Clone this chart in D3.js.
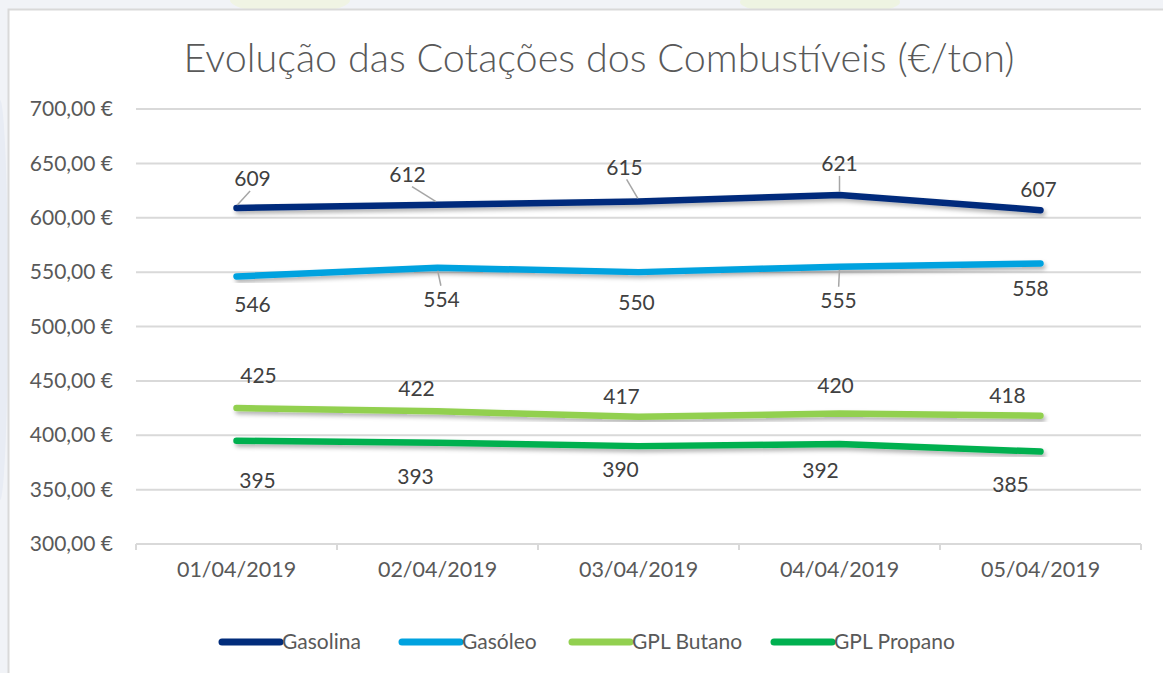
<!DOCTYPE html>
<html>
<head>
<meta charset="utf-8">
<script src="https://cdn.jsdelivr.net/npm/d3@7"></script>
<style>
  body { margin: 0; background: #f1f3f7; overflow: hidden; }
  svg { display: block; font-family: Lato, "Open Sans", sans-serif; }
</style>
</head>
<body>
<div id="chart"></div>
<script>
// data
var dates = ["01/04/2019", "02/04/2019", "03/04/2019", "04/04/2019", "05/04/2019"];
var seriesNames = ["Gasolina", "Gasóleo", "GPL Butano", "GPL Propano"];
var gasolina = [609, 612, 615, 621, 607];
var gasoleo = [546, 554, 550, 555, 558];
var gplButano = [425, 422, 417, 420, 418];
var gplPropano = [395, 393, 390, 392, 385];
var yTicks = [300, 350, 400, 450, 500, 550, 600, 650, 700];

// label placement (hand moved in the original), dx/dy from the point, leader line or not
var labelOffsets = [
  [[16, -29, 1], [-30, -30, 1], [-14, -34, 1], [0, -31, 1], [-2, -20, 0]],
  [[16, 28, 0], [4, 32, 1], [-2, 31, 0], [-1, 34, 1], [-10, 25, 0]],
  [[22, -32, 0], [-21, -23, 0], [-17, -20, 0], [-4, -28, 0], [-33, -20, 0]],
  [[21, 40, 0], [-22, 34, 0], [-18, 24, 0], [-19, 27, 0], [-30, 33, 0]]
];
var colors = ["#012c7b", "#00a2df", "#92d050", "#00b050"];

var svgWidth = 1163;
var svgHeight = 673;
var margin = {top: 109, right: 22, bottom: 129, left: 136};
var chartWidth = svgWidth - margin.left - margin.right;
var chartHeight = svgHeight - margin.top - margin.bottom;

var svg = d3.select("#chart")
  .append("svg")
  .attr("width", svgWidth)
  .attr("height", svgHeight);

var defs = svg.append("defs");
defs.append("filter")
  .attr("id", "shadow")
  .attr("x", "-5%").attr("y", "-50%")
  .attr("width", "110%").attr("height", "200%")
  .append("feDropShadow")
  .attr("dx", 2).attr("dy", 3)
  .attr("stdDeviation", 2)
  .attr("flood-color", "#000")
  .attr("flood-opacity", 0.3);

// faint watermark shapes behind the chart box
svg.append("ellipse").attr("cx", 290).attr("cy", 0).attr("rx", 60).attr("ry", 14).attr("fill", "#f0f4e4");
svg.append("ellipse").attr("cx", 820).attr("cy", 2).attr("rx", 80).attr("ry", 14).attr("fill", "#eef4e2");
svg.append("ellipse").attr("cx", 0).attr("cy", 300).attr("rx", 8).attr("ry", 200).attr("fill", "#e8ecf4");

// chart box
svg.append("rect")
  .attr("x", 8.5).attr("y", 9.5)
  .attr("width", 1200).attr("height", 700)
  .attr("fill", "#fff")
  .attr("stroke", "#d9d9d9")
  .attr("stroke-width", 2);

var title = svg.append("text")
  .attr("x", 599)
  .attr("y", 72)
  .attr("text-anchor", "middle")
  .attr("fill", "#595959")
  .style("font-size", "35px")
  .style("font-weight", 300)
  .text("Evolução das Cotações dos Combustíveis (€/ton)");
// stretch the title size to the width it has in the picture
var titleLen = title.node().getComputedTextLength();
title.style("font-size", (35 * 832 / titleLen).toFixed(1) + "px");

var chartGroup = svg.append("g")
  .attr("transform", `translate(${margin.left}, ${margin.top})`);

var xBandScale = d3.scaleBand()
  .domain(dates)
  .range([0, chartWidth]);

var yLinearScale = d3.scaleLinear()
  .domain([300, 700])
  .range([chartHeight, 0]);

// gridlines
chartGroup.selectAll(".grid")
  .data(yTicks.slice(1))
  .enter()
  .append("line")
  .attr("class", "grid")
  .attr("x1", 0)
  .attr("x2", chartWidth)
  .attr("y1", d => yLinearScale(d))
  .attr("y2", d => yLinearScale(d))
  .attr("stroke", "#d9d9d9")
  .attr("stroke-width", 2);

var leftAxis = d3.axisLeft(yLinearScale)
  .tickValues(yTicks)
  .tickSize(0)
  .tickPadding(23)
  .tickFormat(d => d3.format(".2f")(d).replace(".", ",") + " €");

var yAxis = chartGroup.append("g").call(leftAxis);
yAxis.select(".domain").remove();
yAxis.selectAll("text")
  .attr("fill", "#595959")
  .style("font-size", "21px")
  .style("font-family", "Lato, sans-serif");

var bottomAxis = d3.axisBottom(xBandScale)
  .tickSize(0)
  .tickPadding(18);

var xAxis = chartGroup.append("g")
  .attr("transform", `translate(0, ${chartHeight})`)
  .call(bottomAxis);
xAxis.select(".domain").remove();
xAxis.selectAll("text")
  .attr("fill", "#595959")
  .style("font-size", "21.5px")
  .style("font-family", "Lato, sans-serif");

// axis line with ticks at the category boundaries
chartGroup.append("line")
  .attr("x1", 0).attr("x2", chartWidth)
  .attr("y1", chartHeight).attr("y2", chartHeight)
  .attr("stroke", "#d9d9d9").attr("stroke-width", 2);
var boundaries = dates.map(d => xBandScale(d)).concat([chartWidth]);
chartGroup.selectAll(".xtick")
  .data(boundaries)
  .enter()
  .append("line")
  .attr("class", "xtick")
  .attr("x1", d => d).attr("x2", d => d)
  .attr("y1", chartHeight).attr("y2", chartHeight + 6)
  .attr("stroke", "#d9d9d9").attr("stroke-width", 2);

var allSeries = [gasolina, gasoleo, gplButano, gplPropano];
var xc = d => xBandScale(d) + xBandScale.bandwidth() / 2;

var line = d3.line()
  .x((d, i) => xc(dates[i]))
  .y(d => yLinearScale(d));

allSeries.forEach(function(values, s) {
  chartGroup.append("path")
    .datum(values)
    .attr("d", line)
    .attr("fill", "none")
    .attr("stroke", colors[s])
    .attr("stroke-width", 6.5)
    .attr("stroke-linecap", "round")
    .attr("stroke-linejoin", "round")
    .attr("filter", "url(#shadow)");
});

// data labels
allSeries.forEach(function(values, s) {
  values.forEach(function(v, i) {
    var px = xc(dates[i]);
    var py = yLinearScale(v);
    var off = labelOffsets[s][i];
    var lx = px + off[0];
    var ly = py + off[1];
    if (off[2]) {
      var towards = off[1] < 0 ? ly + 12 : ly - 14;
      chartGroup.append("line")
        .attr("x1", px + off[0] * 0.05).attr("y1", py + (off[1] < 0 ? -3 : 3))
        .attr("x2", px + off[0] * 0.85).attr("y2", towards)
        .attr("stroke", "#a6a6a6")
        .attr("stroke-width", 1.5);
    }
    chartGroup.append("text")
      .attr("x", lx)
      .attr("y", ly)
      .attr("dy", "0.35em")
      .attr("text-anchor", "middle")
      .attr("fill", "#404040")
      .style("font-size", "21px")
      .text(v);
  });
});

// legend
var legendX = [222, 402, 572, 774];
var legend = svg.append("g");
seriesNames.forEach(function(name, s) {
  legend.append("line")
    .attr("x1", legendX[s]).attr("x2", legendX[s] + 58)
    .attr("y1", 642).attr("y2", 642)
    .attr("stroke", colors[s])
    .attr("stroke-width", 7)
    .attr("stroke-linecap", "round");
  legend.append("text")
    .attr("x", legendX[s] + 60)
    .attr("y", 642)
    .attr("dy", "0.35em")
    .attr("fill", "#595959")
    .style("font-size", "21px")
    .text(name);
});
</script>
</body>
</html>
